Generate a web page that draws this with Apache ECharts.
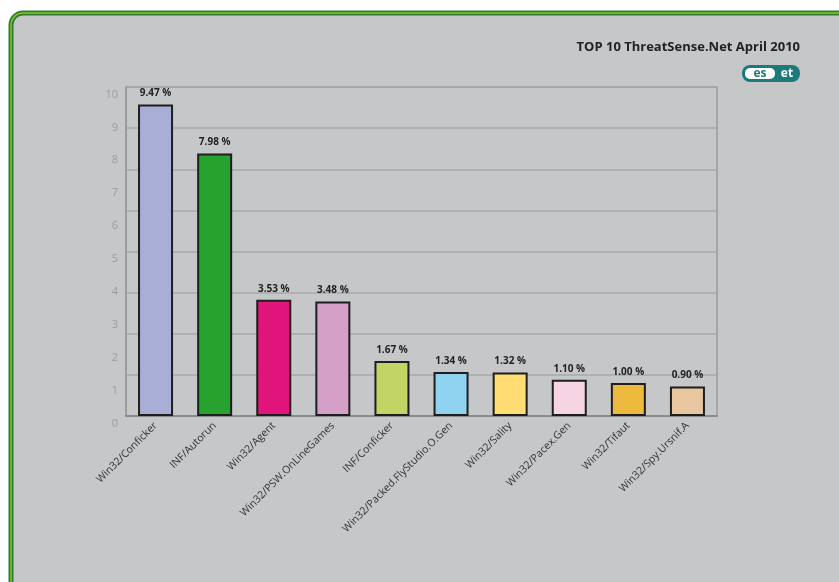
<!DOCTYPE html>
<html><head><meta charset="utf-8">
<script src="https://cdn.jsdelivr.net/npm/echarts@6/dist/echarts.min.js"></script>
<style>html,body{margin:0;padding:0;background:#fff}#c{width:839px;height:582px}</style>
</head><body><div id="c"></div>
<script>
const categories = ['Win32/Conficker','INF/Autorun','Win32/Agent','Win32/PSW.OnLineGames','INF/Conficker','Win32/Packed.FlyStudio.O.Gen','Win32/Sality','Win32/Pacex.Gen','Win32/Tifaut','Win32/Spy.Ursnif.A'];
const values = [9.47, 7.98, 3.53, 3.48, 1.67, 1.34, 1.32, 1.10, 1.00, 0.90];
const yTicks = [0,1,2,3,4,5,6,7,8,9,10];
const title = 'TOP 10 ThreatSense.Net April 2010';
const barColors = ['#a9aed6','#27a22f','#e0147a','#d4a0c8','#c2d463','#8fd3f0','#ffdd72','#f6d4e4','#edb93c','#e8c7a0'];

const chart = echarts.init(document.getElementById('c'));
const FONT = 'Open Sans';
chart.setOption({
  animation: false,
  backgroundColor: '#ffffff',
  graphic: [
    {type:'rect', z:-10, shape:{x:11,y:13,width:860,height:620,r:12}, style:{fill:'#c6c7c9', stroke:'#2f7f33', lineWidth:5}},
    {type:'rect', z:-9, shape:{x:11,y:13,width:860,height:620,r:12}, style:{fill:'none', stroke:'#8cbf2a', lineWidth:1.5}},
    {type:'text', right:39, top:41, style:{text:title, font:'bold 13px "'+FONT+'"', fill:'#222'}},
    {type:'group', right:39, top:65, children:[
      {type:'rect', shape:{x:0,y:0,width:58,height:17,r:8}, style:{fill:'#1c7a7c'}},
      {type:'rect', shape:{x:3,y:3,width:30,height:11,r:5}, style:{fill:'#ffffff'}},
      {type:'text', x:18, y:8.5, style:{text:'es', font:'bold 12px "'+FONT+'"', fill:'#1c7a7c', align:'center', verticalAlign:'middle'}},
      {type:'text', x:45, y:8.5, style:{text:'et', font:'bold 12px "'+FONT+'"', fill:'#fff', align:'center', verticalAlign:'middle'}}
    ]}
  ],
  grid: {left:126, right:122, top:87, bottom:166, show:true, borderColor:'#9a9a9a', borderWidth:1.5},
  xAxis: {
    type:'category', data:categories,
    axisLine:{lineStyle:{color:'#8c8c8c', width:2}},
    axisTick:{show:false},
    axisLabel:{rotate:45, interval:0, color:'#333', fontSize:10.5, fontFamily:FONT, margin:8}
  },
  yAxis: [
    {type:'value', min:0, max:10, interval:1,
      axisLine:{show:true, lineStyle:{color:'#9a9a9a', width:1.5}}, axisTick:{show:false},
      splitLine:{show:false},
      axisLabel:{color:'#9c9c9c', fontSize:11, fontFamily:FONT, margin:8, verticalAlign:'top', padding:[2,0,0,0],
        formatter: v => yTicks.includes(v) ? String(v) : ''}},
    {type:'value', min:0, max:8, interval:1, position:'left',
      axisLine:{show:false}, axisTick:{show:false}, axisLabel:{show:false},
      splitLine:{show:true, lineStyle:{color:'#a9a9a9', width:1.5}}}
  ],
  series: [{
    type:'bar', yAxisIndex:0, barWidth:35,
    data: values.map((v,i)=>({value:v, itemStyle:{color:barColors[i]}})),
    itemStyle:{borderColor:'#1e1e1e', borderWidth:2},
    label:{show:true, position:'top', distance:6, formatter: p => p.value.toFixed(2)+' %',
      color:'#222', fontSize:10, fontWeight:'bold', fontFamily:FONT}
  }]
});
</script></body></html>
